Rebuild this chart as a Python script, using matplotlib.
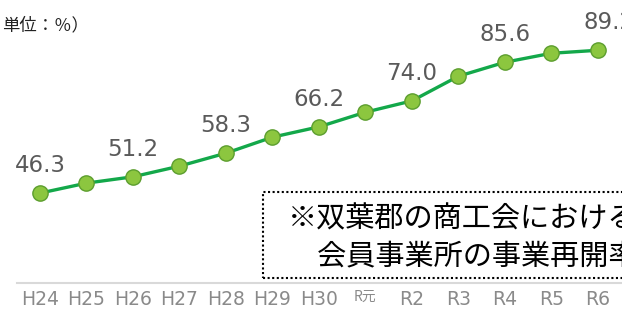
import matplotlib.pyplot as plt
from matplotlib.patches import Rectangle

plt.rcParams['font.family'] = ['Noto Sans CJK JP', 'DejaVu Sans']

years = ["H24", "H25", "H26", "H27", "H28", "H29", "H30",
         "R元", "R2", "R3", "R4", "R5", "R6"]
rates = [46.3, 49.3, 51.2, 54.4, 58.3, 63.1, 66.2,
         70.6, 74.0, 81.4, 85.6, 88.3, 89.2]
labels = ["46.3", "", "51.2", "", "58.3", "", "66.2",
          "", "74.0", "", "85.6", "", "89.2"]

W, H = 622, 311
fig = plt.figure(figsize=(W / 100, H / 100), dpi=100)
ax = fig.add_axes([17 / W, 1 - 283 / H, 1 - 17 / W, 283 / H])

x = list(range(len(years)))
ax.plot(x, rates, color="#13a84a", lw=2.4, zorder=2)
ax.plot(x, rates, ls="none", marker="o", ms=11, mfc="#8cc63f",
        mec="#5c9e2e", mew=1.0, zorder=3)

for i, t in enumerate(labels):
    if t:
        dx = 8 if i == len(labels) - 1 else 0
        ax.annotate(t, (i, rates[i]), xytext=(dx, 20), textcoords="offset points",
                    ha="center", va="center", fontsize=16.5, color="#5a5a5a",
                    family="DejaVu Sans", annotation_clip=False)

ax.set_xlim(-0.495, 12.52)
ax.set_ylim(19.3, 104.3)
ax.set_yticks([])
ax.set_xticks(x)
ax.set_xticklabels(years, fontsize=13.5, color="#8a8a8a")
for lab in ax.get_xticklabels():
    if lab.get_text() == "R元":
        lab.set_fontsize(10)
    else:
        lab.set_family("DejaVu Sans")
ax.tick_params(axis="x", length=0, pad=5)
for s in ["top", "right", "left"]:
    ax.spines[s].set_visible(False)
ax.spines["bottom"].set_color("#d9d9d9")
ax.spines["bottom"].set_linewidth(1.5)
ax.patch.set_alpha(0)

# 注記の枠
fig.add_artist(Rectangle((263 / W, 1 - 278 / H), 400 / W, 86 / H,
                         transform=fig.transFigure, fill=False,
                         ls=(0, (1, 1.2)), lw=1.5, ec="black", zorder=5))
fig.text(288 / W, 1 - 219 / H, "※双葉郡の商工会における", fontsize=21,
         ha="left", va="center", color="black")
fig.text(288 / W, 1 - 256 / H, "\u3000会員事業所の事業再開率", fontsize=21,
         ha="left", va="center", color="black")

fig.text(2 / W, 1 - 25 / H, "単位：％）", fontsize=12.5, ha="left",
         va="center", color="#222222")

fig.savefig("out.png", dpi=100)
